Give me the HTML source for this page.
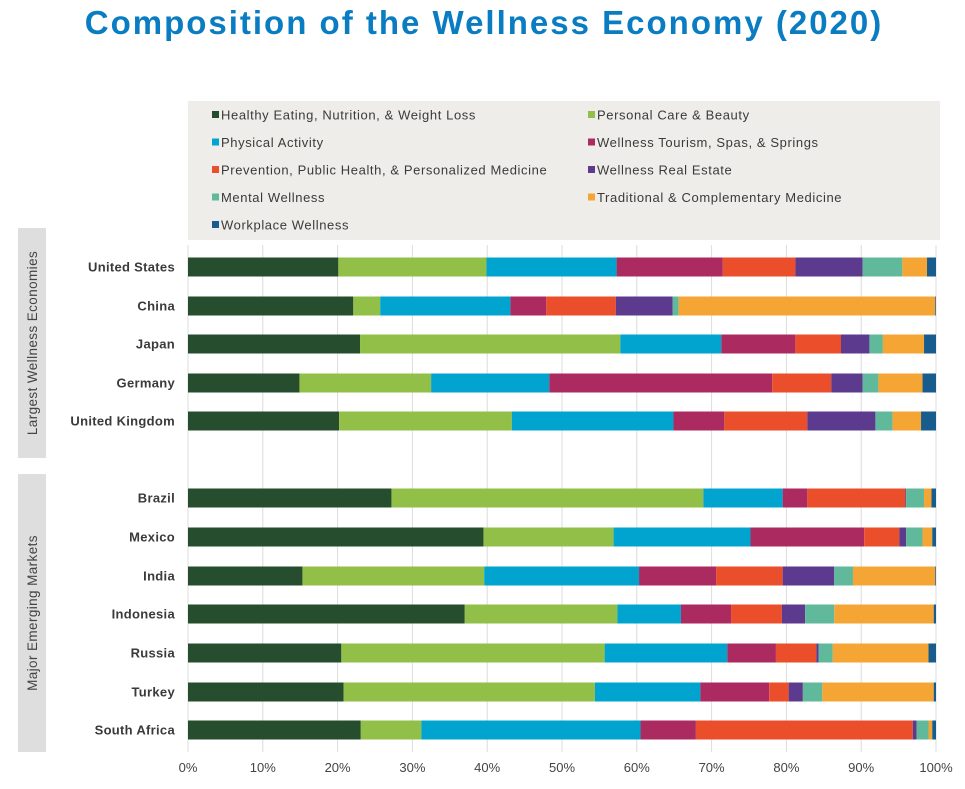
<!DOCTYPE html>
<html><head><meta charset="utf-8"><style>
body{margin:0;background:#fff;width:965px;height:784px;overflow:hidden;font-family:"Liberation Sans",sans-serif}
</style></head><body>
<svg id="c" width="965" height="784" xmlns="http://www.w3.org/2000/svg"></svg>
<script>
const categories=["United States","China","Japan","Germany","United Kingdom","Brazil","Mexico","India","Indonesia","Russia","Turkey","South Africa"];
const seriesNames=["Healthy Eating, Nutrition, & Weight Loss","Personal Care & Beauty","Physical Activity","Wellness Tourism, Spas, & Springs","Prevention, Public Health, & Personalized Medicine","Wellness Real Estate","Mental Wellness","Traditional & Complementary Medicine","Workplace Wellness"];
const colors=["#264d2e","#92bf47","#01a4cf","#ab2a5f","#ea4e2a","#5c3a8d","#61b99b","#f4a534","#175c8c"];
const healthyEating=[20.1,22.1,23.0,14.9,20.2,27.2,39.5,15.3,37.0,20.5,20.8,23.1];
const personalCare=[19.8,3.6,34.8,17.6,23.1,41.7,17.4,24.3,20.4,35.2,33.6,8.1];
const physicalActivity=[17.4,17.4,13.5,15.8,21.6,10.6,18.3,20.7,8.5,16.4,14.1,29.3];
const wellnessTourism=[14.2,4.8,9.9,29.8,6.8,3.3,15.2,10.3,6.7,6.5,9.2,7.4];
const prevention=[9.7,9.3,6.1,7.9,11.1,13.1,4.7,8.9,6.8,5.4,2.6,29.0];
const realEstate=[9.0,7.6,3.8,4.2,9.1,0.1,0.9,6.9,3.1,0.3,1.9,0.5];
const mentalWellness=[5.3,0.8,1.8,2.1,2.3,2.4,2.2,2.5,3.9,1.9,2.6,1.6];
const traditional=[3.3,34.3,5.5,5.9,3.8,1.0,1.3,11.0,13.3,12.8,14.9,0.5];
const workplace=[1.2,0.1,1.6,1.8,2.0,0.6,0.5,0.1,0.3,1.0,0.3,0.5];
const tickValues=[0,10,20,30,40,50,60,70,80,90,100];
const tickLabels=["0%","10%","20%","30%","40%","50%","60%","70%","80%","90%","100%"];
const series=[healthyEating,personalCare,physicalActivity,wellnessTourism,prevention,realEstate,mentalWellness,traditional,workplace];
const NS="http://www.w3.org/2000/svg",svg=document.getElementById('c');
const x0=188,x1=936;
const xs=v=>x0+(x1-x0)*v/100;
const rowY=[267,306,344,383,421,498,537,576,614,653,692,730];
const ys=i=>rowY[i];
function mk(t,a,p){const e=document.createElementNS(NS,t);for(const k in a)e.setAttribute(k,a[k]);(p||svg).appendChild(e);return e;}
let t=mk('text',{x:484,y:34,'text-anchor':'middle','font-size':33,'font-weight':'bold',fill:'#0a7cc1','letter-spacing':2});t.textContent="Composition of the Wellness Economy (2020)";


let lg=mk('g',{});


mk('rect',{x:188,y:101,width:752,height:139,fill:'#efedea'},lg);
seriesNames.forEach((n,i)=>{const col=i%2,row=Math.floor(i/2);const gx=col?588:212,gy=115+row*27.5;
 const g=mk('g',{},lg);
 
 
 mk('rect',{x:gx,y:gy-4,width:7,height:7,fill:colors[i]},g);
 const tt=mk('text',{x:gx+9,y:gy+4.5,'font-size':13,fill:'#3a3a3a','letter-spacing':0.6},g);tt.textContent=n;});
[[18,228,230,"Largest Wellness Economies"],[18,474,278,"Major Emerging Markets"]].forEach(([x,y,h,s])=>{
 const g=mk('g',{});
 
 
 mk('rect',{x:x,y:y,width:28,height:h,fill:'#dedede'},g);
 const tt=mk('text',{x:0,y:0,'font-size':13.5,fill:'#444','text-anchor':'middle','letter-spacing':0.4,transform:`translate(${x+19},${y+h/2}) rotate(-90)`},g);tt.textContent=s;});
tickValues.forEach((v,i)=>{const l=mk('line',{x1:xs(v),x2:xs(v),y1:245,y2:752,stroke:'#dcdcdc','stroke-width':1});
 
 
 const tt=mk('text',{x:xs(v),y:772,'text-anchor':'middle','font-size':13,fill:'#444'});tt.textContent=tickLabels[i];
 
 });
categories.forEach((c,i)=>{let cum=0;const y=ys(i);
 const lb=mk('text',{x:175,y:y+4.5,'text-anchor':'end','font-size':13,'font-weight':'bold',fill:'#3a3a3a','letter-spacing':0.3});lb.textContent=c;
 
 
 series.forEach((s,j)=>{const v=s[i];const r=mk('rect',{x:xs(cum),y:y-9.5,width:Math.max(0,xs(cum+v)-xs(cum)),height:19,fill:colors[j]});
  
  
  cum+=v;});});
</script>
</body></html>
